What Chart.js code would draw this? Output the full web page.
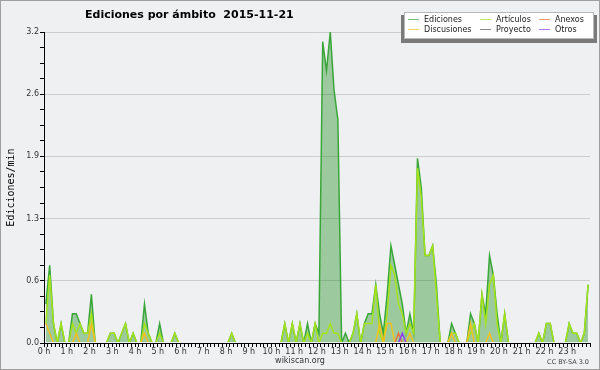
<!DOCTYPE html>
<html lang="es">
<head>
<meta charset="UTF-8">
<title>Ediciones por ámbito 2015-11-21</title>
<script src="https://cdn.jsdelivr.net/npm/chart.js"></script>
<style>
  html, body { margin: 0; padding: 0; background: #eff0f2; }
  #wrap { width: 600px; height: 370px; }
</style>
</head>
<body>
<div id="wrap"><canvas id="chart" width="600" height="370"></canvas></div>
<script>
// edits per minute, one value per 10-minute slot (two hours per line)
const ediciones = [
  0.4, 0.8, 0.2, 0, 0.2, 0,   0, 0.3, 0.3, 0.2, 0.1, 0.1,
  0.5, 0, 0, 0, 0, 0.1,       0.1, 0, 0.1, 0.2, 0, 0.1,
  0, 0, 0.4, 0.1, 0, 0,       0.2, 0, 0, 0, 0.1, 0,
  0, 0, 0, 0, 0, 0,           0, 0, 0, 0, 0, 0,
  0, 0.1, 0, 0, 0, 0,         0, 0, 0, 0, 0, 0,
  0, 0, 0, 0.2, 0, 0.2,       0, 0.2, 0, 0.2, 0, 0.2,
  0.1, 3.1, 2.8, 3.2, 2.6, 2.3,  0, 0.1, 0, 0.1, 0.3, 0,
  0.2, 0.3, 0.3, 0.6, 0.3, 0.1,  0.5, 1.0, 0.8, 0.6, 0.4, 0.1,
  0.3, 0.1, 1.9, 1.6, 0.9, 0.9,  1.0, 0.6, 0, 0, 0, 0.2,
  0.1, 0, 0, 0, 0.3, 0.2,     0, 0.5, 0.3, 0.9, 0.7, 0.3,
  0, 0.3, 0, 0, 0, 0,         0, 0, 0, 0, 0.1, 0,
  0.2, 0.2, 0, 0, 0, 0,       0.2, 0.1, 0.1, 0, 0.1, 0.6
];
const articulos = [
  0.2, 0.7, 0.2, 0, 0.2, 0,   0, 0.2, 0.1, 0.2, 0.1, 0.1,
  0.3, 0, 0, 0, 0, 0.1,       0.1, 0, 0.1, 0.2, 0, 0.1,
  0, 0, 0.2, 0.1, 0, 0,       0.1, 0, 0, 0, 0.1, 0,
  0, 0, 0, 0, 0, 0,           0, 0, 0, 0, 0, 0,
  0, 0.1, 0, 0, 0, 0,         0, 0, 0, 0, 0, 0,
  0, 0, 0, 0.2, 0, 0.2,       0, 0.2, 0, 0.1, 0, 0.2,
  0, 0.1, 0.1, 0.2, 0.1, 0.1,  0, 0, 0, 0.1, 0.3, 0,
  0.2, 0.2, 0.2, 0.6, 0.1, 0,  0.3, 0.8, 0.7, 0.4, 0.3, 0.1,
  0.2, 0.1, 1.8, 1.5, 0.9, 0.9,  1.0, 0.5, 0, 0, 0, 0.1,
  0.1, 0, 0, 0, 0.1, 0.2,     0, 0.5, 0.2, 0.6, 0.7, 0.2,
  0, 0.3, 0, 0, 0, 0,         0, 0, 0, 0, 0.1, 0,
  0.2, 0.2, 0, 0, 0, 0,       0.2, 0.1, 0.1, 0, 0.1, 0.6
];
const discusiones = [
  0.2, 0.1, 0, 0, 0, 0,       0, 0, 0.1, 0, 0, 0,
  0.2, 0, 0, 0, 0, 0,         0, 0, 0, 0, 0, 0,
  0, 0, 0.1, 0, 0, 0,         0, 0, 0, 0, 0, 0,
  0, 0, 0, 0, 0, 0,           0, 0, 0, 0, 0, 0,
  0, 0, 0, 0, 0, 0,           0, 0, 0, 0, 0, 0,
  0, 0, 0, 0, 0, 0,           0, 0, 0, 0, 0, 0,
  0, 0, 0, 0, 0, 0,           0, 0, 0, 0, 0, 0,
  0, 0, 0, 0, 0.2, 0,         0.2, 0.2, 0, 0, 0, 0,
  0.1, 0, 0, 0, 0, 0,         0, 0, 0, 0, 0, 0.1,
  0, 0, 0, 0, 0.2, 0,         0, 0, 0, 0.1, 0, 0,
  0, 0, 0, 0, 0, 0,           0, 0, 0, 0, 0, 0,
  0, 0, 0, 0, 0, 0,           0, 0, 0, 0, 0, 0
];
const anexos = [
  0, 0, 0, 0, 0, 0,  0, 0, 0, 0, 0, 0,
  0, 0, 0, 0, 0, 0,  0, 0, 0, 0, 0, 0,
  0, 0, 0, 0, 0, 0,  0, 0, 0, 0, 0, 0,
  0, 0, 0, 0, 0, 0,  0, 0, 0, 0, 0, 0,
  0, 0, 0, 0, 0, 0,  0, 0, 0, 0, 0, 0,
  0, 0, 0, 0, 0, 0,  0, 0, 0, 0, 0, 0,
  0, 0, 0, 0, 0, 0,  0, 0, 0, 0, 0, 0,
  0, 0, 0, 0, 0, 0,  0, 0, 0, 0.1, 0, 0,
  0, 0, 0, 0, 0, 0,  0, 0, 0, 0, 0, 0,
  0, 0, 0, 0, 0, 0,  0, 0, 0, 0, 0, 0,
  0, 0, 0, 0, 0, 0,  0, 0, 0, 0, 0, 0,
  0, 0, 0, 0, 0, 0,  0, 0, 0, 0, 0, 0
];
const otros = [
  0, 0, 0, 0, 0, 0,  0, 0, 0, 0, 0, 0,
  0, 0, 0, 0, 0, 0,  0, 0, 0, 0, 0, 0,
  0, 0, 0, 0, 0, 0,  0, 0, 0, 0, 0, 0,
  0, 0, 0, 0, 0, 0,  0, 0, 0, 0, 0, 0,
  0, 0, 0, 0, 0, 0,  0, 0, 0, 0, 0, 0,
  0, 0, 0, 0, 0, 0,  0, 0, 0, 0, 0, 0,
  0, 0, 0, 0, 0, 0,  0, 0, 0, 0, 0, 0,
  0, 0, 0, 0, 0, 0,  0, 0, 0, 0, 0.1, 0,
  0, 0, 0, 0, 0, 0,  0, 0, 0, 0, 0, 0,
  0, 0, 0, 0, 0, 0,  0, 0, 0, 0, 0, 0,
  0, 0, 0, 0, 0, 0,  0, 0, 0, 0, 0, 0,
  0, 0, 0, 0, 0, 0,  0, 0, 0, 0, 0, 0
];
const proyecto = []; // nothing visible for this namespace

const hourLabels = ["0 h", "1 h", "2 h", "3 h", "4 h", "5 h", "6 h", "7 h", "8 h", "9 h", "10 h", "11 h",
  "12 h", "13 h", "14 h", "15 h", "16 h", "17 h", "18 h", "19 h", "20 h", "21 h", "22 h", "23 h"];
const yTickLabels = ["0.0", "0.6", "1.3", "1.9", "2.6", "3.2"];
const yMax = 3.2;
const slotsPerHour = 6;

function points(arr) {
  return arr.map((v, i) => ({ x: i + 0.5, y: v }));
}

function series(label, arr, color, order, extra) {
  return Object.assign({
    label: label,
    data: points(arr),
    borderColor: color,
    backgroundColor: color,
    borderWidth: 1.5,
    pointRadius: 0,
    tension: 0,
    fill: false,
    order: order,
    clip: { left: 0, top: 5, right: 0, bottom: -1 }
  }, extra || {});
}

// datasets in legend order (row by row)
const datasets = [
  series("Ediciones", ediciones, "#3aa63a", 10, { fill: "origin", backgroundColor: "rgba(20,140,20,0.38)" }),
  series("Artículos", articulos, "#a4e31a", 5),
  series("Anexos", anexos, "#f0703c", 3),
  series("Discusiones", discusiones, "#f2c01e", 4),
  series("Proyecto", proyecto, "#555555", 2),
  series("Otros", otros, "#8c3cf0", 1)
];

const bgPlugin = {
  id: "bg",
  beforeDraw(chart) {
    const c = chart.ctx;
    c.save();
    c.fillStyle = "#eff0f2";
    c.fillRect(0, 0, chart.width, chart.height);
    c.strokeStyle = "#a0a0a0";
    c.lineWidth = 1;
    c.strokeRect(0.5, 0.5, chart.width - 1, chart.height - 1);
    c.restore();
  }
};

const textPlugin = {
  id: "texts",
  afterDraw(chart) {
    const c = chart.ctx;
    c.save();
    c.fillStyle = "#000";
    c.textBaseline = "middle";
    c.textAlign = "left";
    c.font = "bold 11px 'DejaVu Sans'";
    c.fillText("Ediciones por ámbito  2015-11-21", 85, 15);
    c.fillStyle = "#333";
    c.textAlign = "center";
    c.font = "8px 'DejaVu Sans'";
    c.fillText("wikiscan.org", 300, 361);
    c.textAlign = "right";
    c.font = "6.5px 'DejaVu Sans'";
    c.fillStyle = "#444";
    c.fillText("CC BY-SA 3.0", 589, 362);
    c.restore();
  }
};

const legendPlugin = {
  id: "boxLegend",
  afterDraw(chart) {
    const c = chart.ctx;
    c.save();
    c.fillStyle = "#7a7a7a";
    c.fillRect(401, 15, 196, 28);
    c.fillStyle = "#ffffff";
    c.fillRect(404, 12, 190, 27);
    c.strokeStyle = "#b8b8b8";
    c.lineWidth = 1;
    c.strokeRect(404.5, 12.5, 189, 26);
    const cols = [408, 480, 539];
    const rows = [19.5, 29.5];
    c.font = "8px 'DejaVu Sans'";
    c.textBaseline = "middle";
    c.textAlign = "left";
    chart.data.datasets.forEach((ds, k) => {
      const x = cols[k % 3], y = rows[Math.floor(k / 3)];
      c.strokeStyle = ds.borderColor;
      c.globalAlpha = 0.7;
      c.beginPath();
      c.moveTo(x, y);
      c.lineTo(x + 11, y);
      c.stroke();
      c.globalAlpha = 1;
      c.fillStyle = "#222";
      c.fillText(ds.label, x + 16, y);
    });
    c.restore();
  }
};

const ctx = document.getElementById("chart").getContext("2d");
const chart = new Chart(ctx, {
  type: "line",
  data: { datasets: datasets },
  options: {
    responsive: false,
    animation: false,
    devicePixelRatio: 1,
    layout: { padding: { left: 0, right: 10, top: 32, bottom: 0 } },
    plugins: {
      legend: { display: false },
      tooltip: { enabled: false },
      title: { display: false }
    },
    scales: {
      x: {
        type: "linear",
        min: 0,
        max: 24 * slotsPerHour,
        z: 1,
        afterFit(scale) { scale.height = 27; },
        afterBuildTicks(scale) {
          const t = [];
          for (let i = 0; i <= 24 * slotsPerHour; i++) t.push({ value: i });
          scale.ticks = t;
        },
        border: { color: "#000", width: 1 },
        grid: { drawOnChartArea: false, tickLength: 4, color: "#000" },
        ticks: {
          autoSkip: false,
          maxRotation: 0,
          padding: 0,
          color: "#333",
          font: { family: "DejaVu Sans", size: 8 },
          callback(v) {
            return v % slotsPerHour === 0 && hourLabels[v / slotsPerHour] ? hourLabels[v / slotsPerHour] : "";
          }
        }
      },
      y: {
        min: 0,
        max: yMax,
        afterFit(scale) { scale.width = 44; },
        afterBuildTicks(scale) {
          const t = [];
          for (let k = 0; k <= 20; k++) t.push({ value: k * yMax / 20 });
          scale.ticks = t;
        },
        border: { color: "#000", width: 1 },
        grid: {
          tickLength: 4,
          tickColor: "#000",
          color(c) { return c.index % 4 === 0 ? "#cccccc" : "rgba(0,0,0,0)"; }
        },
        ticks: {
          autoSkip: false,
          padding: 1,
          color: "#333",
          font: { family: "DejaVu Sans", size: 8 },
          callback(v, i) { return i % 4 === 0 ? yTickLabels[i / 4] : ""; }
        },
        title: {
          display: true,
          text: "Ediciones/min",
          color: "#000",
          font: { family: "DejaVu Sans Mono", size: 10 },
          padding: { top: 5, bottom: 0 }
        }
      }
    }
  },
  plugins: [bgPlugin, textPlugin, legendPlugin]
});
</script>
</body>
</html>
